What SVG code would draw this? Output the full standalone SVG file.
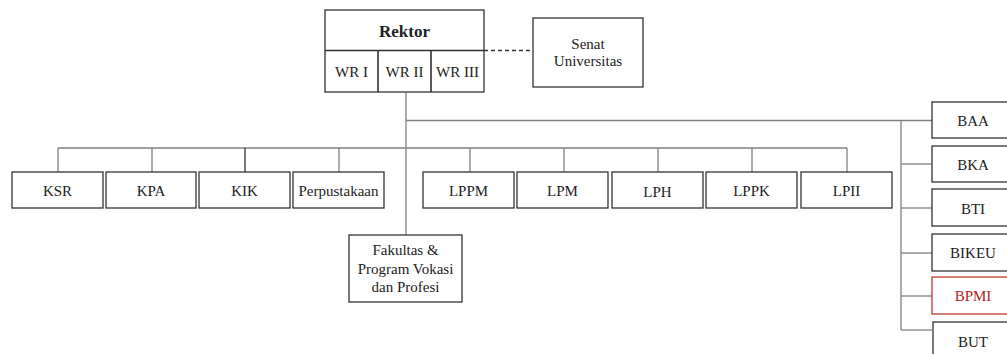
<svg xmlns="http://www.w3.org/2000/svg" width="1007" height="354" viewBox="0 0 1007 354">
<style>
.b{fill:#fff;stroke:#333;stroke-width:1.3}
.r{fill:#fff;stroke:#c0392b;stroke-width:1.3}
.t{font-family:"Liberation Serif","Times New Roman","DejaVu Serif",serif;font-size:15px;fill:#222;text-anchor:middle;dominant-baseline:central}
.tr{fill:#b22222}
.c{stroke:#808080;stroke-width:1.3;fill:none}
</style>
<rect width="1007" height="354" fill="#fff"/>
<g id="connectors">
<line class="c" x1="484" y1="50.5" x2="533" y2="50.5" stroke-dasharray="4,3" style="stroke:#333"/>
<line class="c" x1="406" y1="92" x2="406" y2="235"/>
<line class="c" x1="406" y1="120.5" x2="932" y2="120.5"/>
<line class="c" x1="58" y1="148" x2="847" y2="148"/>
<line class="c" x1="58" y1="148" x2="58" y2="172"/>
<line class="c" x1="152" y1="148" x2="152" y2="172"/>
<line class="c" x1="245" y1="148" x2="245" y2="172" style="stroke:#333"/>
<line class="c" x1="339" y1="148" x2="339" y2="172"/>
<line class="c" x1="470" y1="148" x2="470" y2="172"/>
<line class="c" x1="564" y1="148" x2="564" y2="172"/>
<line class="c" x1="658" y1="148" x2="658" y2="172"/>
<line class="c" x1="752" y1="148" x2="752" y2="172"/>
<line class="c" x1="847" y1="148" x2="847" y2="172"/>
<line class="c" x1="901" y1="120.5" x2="901" y2="330"/>
<line class="c" x1="901" y1="164" x2="932" y2="164"/>
<line class="c" x1="901" y1="208" x2="932" y2="208"/>
<line class="c" x1="901" y1="253" x2="932" y2="253"/>
<line class="c" x1="901" y1="296" x2="932" y2="296"/>
<line class="c" x1="901" y1="330" x2="932" y2="330"/>
</g>
<g id="rektor">
<rect class="b" x="325" y="10" width="159" height="82"/>
<line x1="325" y1="50.5" x2="484" y2="50.5" stroke="#333" stroke-width="1.3"/>
<text class="t" x="404.5" y="31" style="font-weight:bold;font-size:17px">Rektor</text>
</g>
<g id="wr1">
<line x1="378" y1="50.5" x2="378" y2="92" stroke="#333" stroke-width="1.6"/>
<text class="t" x="351.5" y="72">WR I</text>
</g>
<g id="wr2">
<line x1="431" y1="50.5" x2="431" y2="92" stroke="#333" stroke-width="1.6"/>
<text class="t" x="404.5" y="72">WR II</text>
</g>
<g id="wr3"><text class="t" x="457.5" y="72">WR III</text></g>
<g id="senat">
<rect class="b" x="533" y="18" width="110" height="69"/>
<text class="t" x="588" y="44">Senat</text>
<text class="t" x="588" y="61">Universitas</text>
</g>
<g id="ksr"><rect class="b" x="12" y="172" width="91" height="36"/><text class="t" x="57.5" y="191">KSR</text></g>
<g id="kpa"><rect class="b" x="106" y="172" width="90" height="36"/><text class="t" x="151" y="191">KPA</text></g>
<g id="kik"><rect class="b" x="199" y="172" width="91" height="36"/><text class="t" x="244.5" y="191">KIK</text></g>
<g id="perpustakaan"><rect class="b" x="293" y="172" width="91" height="36"/><text class="t" x="338.5" y="191">Perpustakaan</text></g>
<g id="lppm"><rect class="b" x="423" y="172" width="91" height="36"/><text class="t" x="468.5" y="191">LPPM</text></g>
<g id="lpm"><rect class="b" x="517" y="172" width="91" height="36"/><text class="t" x="562.5" y="191">LPM</text></g>
<g id="lph"><rect class="b" x="612" y="172" width="91" height="36"/><text class="t" x="657.5" y="192">LPH</text></g>
<g id="lppk"><rect class="b" x="706" y="172" width="91" height="36"/><text class="t" x="751.5" y="191">LPPK</text></g>
<g id="lpii"><rect class="b" x="801" y="172" width="91" height="36"/><text class="t" x="846.5" y="191">LPII</text></g>
<g id="fakultas">
<rect class="b" x="349" y="235" width="113" height="67"/>
<text class="t" x="405.5" y="250">Fakultas &amp;</text>
<text class="t" x="405.5" y="268.5">Program Vokasi</text>
<text class="t" x="405.5" y="287">dan Profesi</text>
</g>
<g id="baa"><rect class="b" x="932" y="102" width="84" height="36"/><text class="t" x="973" y="121">BAA</text></g>
<g id="bka"><rect class="b" x="932" y="146" width="84" height="36"/><text class="t" x="973" y="165">BKA</text></g>
<g id="bti"><rect class="b" x="932" y="189" width="84" height="37"/><text class="t" x="973" y="209">BTI</text></g>
<g id="bikeu"><rect class="b" x="932" y="234" width="84" height="37"/><text class="t" x="973" y="253">BIKEU</text></g>
<g id="bpmi"><rect class="r" x="932" y="277" width="84" height="37"/><text class="t tr" x="973" y="296">BPMI</text></g>
<g id="but"><rect class="b" x="933" y="322" width="84" height="40"/><text class="t" x="973" y="342">BUT</text></g>
</svg>
